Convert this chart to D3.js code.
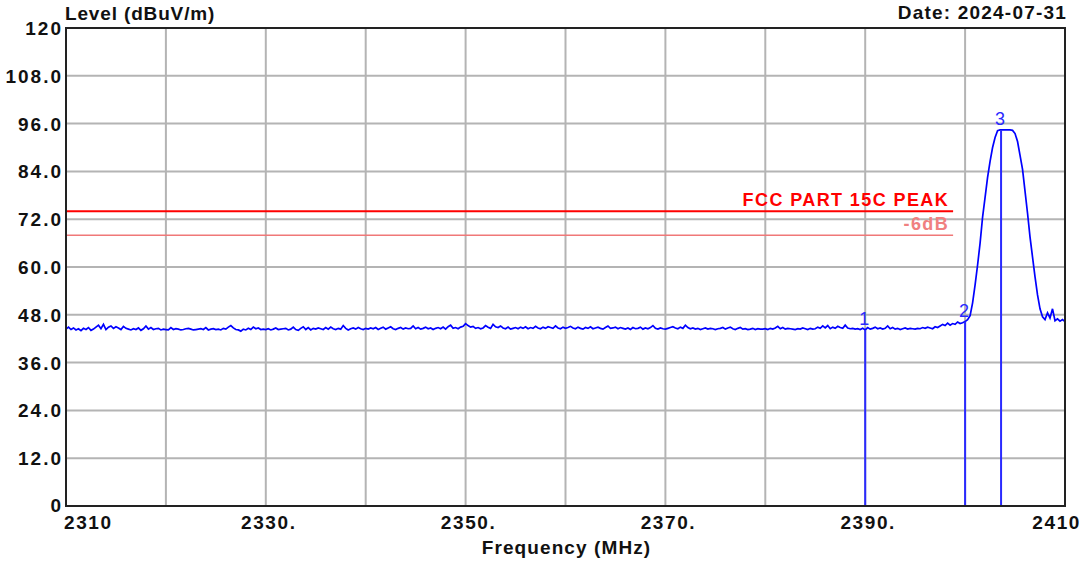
<!DOCTYPE html>
<html><head><meta charset="utf-8">
<script src="https://cdn.jsdelivr.net/npm/d3@7"></script>
<style>body{margin:0;background:#fff}svg{display:block}text{font-family:"Liberation Sans",Arial,sans-serif}</style>
</head><body><svg id="c" width="1089" height="563"></svg>
<script>
const freqStart = 2310, freqStep = 0.25;
const levels = [
44.4,44.9,44.3,44.7,44.2,44.5,44.0,44.6,44.3,44.8,44.1,44.4,44.9,45.4,44.5,45.6,44.3,44.9,45.2,44.6,
45.0,44.7,44.3,45.1,44.6,44.4,44.2,44.5,44.3,44.7,44.1,44.5,45.2,44.4,44.8,44.3,44.5,44.6,44.2,44.4,
44.3,44.2,44.8,44.3,44.5,44.4,44.2,44.3,44.5,44.6,44.4,44.2,44.3,44.4,44.5,44.3,44.8,44.2,44.4,44.5,
44.3,44.4,44.2,44.6,44.4,44.9,45.3,44.7,44.3,44.2,43.9,44.4,44.2,44.6,44.3,44.9,44.5,44.7,44.3,44.4,
44.3,44.5,44.2,44.4,44.7,44.3,44.4,44.5,44.6,44.2,44.4,44.9,44.3,44.1,44.6,45.0,44.3,44.8,44.2,44.6,
44.4,44.7,44.5,44.3,44.8,44.4,44.9,44.5,44.3,44.6,44.4,45.3,44.6,44.2,44.5,44.7,44.4,44.8,44.5,44.3,
44.6,44.4,44.7,44.5,44.8,44.3,44.6,44.9,44.4,44.7,45.0,44.5,44.3,44.6,44.8,44.4,44.7,44.5,44.6,45.2,
44.5,44.8,44.4,44.6,44.9,44.5,44.7,44.3,44.6,44.8,44.5,44.9,44.4,45.0,45.4,44.6,44.8,44.5,44.9,45.1,
45.8,45.3,44.9,45.1,44.6,44.8,44.5,44.7,45.3,44.9,44.6,45.6,45.0,44.8,45.2,44.7,44.5,44.9,44.4,44.6,
44.8,44.5,44.9,44.6,45.0,44.5,44.8,44.6,45.1,44.7,44.5,44.9,44.6,45.0,44.8,44.6,45.2,44.7,44.5,44.9,
44.6,44.8,45.1,44.7,44.5,44.9,44.6,44.4,44.8,44.6,45.0,44.5,44.7,44.9,44.6,44.4,44.8,45.2,44.6,44.7,
44.9,44.5,44.8,44.6,44.4,44.7,44.3,44.8,44.5,44.6,44.9,44.4,44.7,44.5,44.8,45.3,44.6,44.4,44.7,44.5,
44.4,44.6,44.8,45.0,44.7,44.5,44.9,44.6,45.4,44.8,44.5,44.7,44.4,44.6,44.3,44.5,44.7,44.4,44.6,44.5,
44.3,44.5,44.6,44.8,44.4,44.7,44.9,44.5,44.3,44.6,44.8,44.4,44.5,44.3,44.4,44.6,44.3,44.5,44.4,44.4,
44.5,44.3,44.6,44.4,44.7,45.1,44.5,44.8,44.4,44.6,44.5,44.4,44.3,44.5,44.4,44.7,44.5,44.3,44.6,44.4,
44.5,44.9,44.6,45.2,44.7,45.3,44.5,44.9,44.6,45.1,44.8,44.6,45.4,44.7,44.5,44.6,44.4,44.5,44.3,44.6,
44.2,44.8,44.4,44.6,44.9,44.5,44.7,44.4,44.6,45.2,44.5,44.8,44.4,44.6,44.3,44.5,44.7,44.4,44.6,44.5,
44.4,44.6,44.5,44.8,44.6,44.9,44.7,44.5,45.0,44.8,45.2,45.6,45.3,45.9,45.4,45.8,45.6,46.2,45.8,46.0,
46.3,46.8,47.8,51.0,55.5,60.5,66.0,72.5,77.5,82.5,86.5,90.0,92.5,94.2,94.4,94.4,94.4,94.4,94.4,94.3,
93.5,91.5,88.0,84.5,79.0,73.5,67.5,62.5,57.5,53.0,49.5,47.5,46.8,48.5,47.2,49.5,46.5,47.0,46.4,46.8,
46.3
];
const yTicks = [0,12,24,36,48,60,72,84,96,108,120];
const yTickLabels = ["0","12.0","24.0","36.0","48.0","60.0","72.0","84.0","96.0","108.0","120"];
const xGrid = [2310,2320,2330,2340,2350,2360,2370,2380,2390,2400,2410];
const xTicks = [2310,2330,2350,2370,2390,2410];
const xTickLabels = ["2310","2330.","2350.","2370.","2390.","2410"];
const markerIds = ["1","2","3"];
const markerFreqs = [2390, 2400, 2403.6];
const markerLevels = [44.2, 46.3, 94.4];
const limitNames = ["FCC PART 15C PEAK","-6dB"];
const limitLevels = [74, 68];
const limitEnd = 2398.8;

const svg = d3.select("#c");
const L=66,R=1065,T=28,B=506;
const x = d3.scaleLinear().domain([2310,2410]).range([L,R]);
const y = d3.scaleLinear().domain([0,120]).range([B,T]);

// grid
svg.append("g").selectAll("line").data(yTicks.slice(1,-1)).join("line")
  .attr("x1",L).attr("x2",R).attr("y1",d=>y(d)).attr("y2",d=>y(d))
  .attr("stroke","#b4b4b4").attr("stroke-width",2);
svg.append("g").selectAll("line").data(xGrid.slice(1,-1)).join("line")
  .attr("y1",T).attr("y2",B).attr("x1",d=>x(d)).attr("x2",d=>x(d))
  .attr("stroke","#b4b4b4").attr("stroke-width",2);

// limit lines
const limColors = ["#ff0000","#f07878"];
svg.append("g").selectAll("line").data(limitLevels).join("line")
  .attr("x1",x(2310)).attr("x2",x(limitEnd)).attr("y1",d=>y(d)).attr("y2",d=>y(d))
  .attr("stroke",(d,i)=>limColors[i]).attr("stroke-width",(d,i)=>i?1.5:2);
svg.append("g").selectAll("text").data(limitNames).join("text")
  .attr("x",x(limitEnd)-4).attr("y",(d,i)=>y(limitLevels[i])-5)
  .attr("text-anchor","end").attr("font-size",18).attr("letter-spacing",1.4).attr("font-weight","bold")
  .attr("fill",(d,i)=>i?"#f08080":"#ff0000").text(d=>d);

// trace
const pts = levels.map((v,i)=>[freqStart+i*freqStep, v]);
svg.append("path").datum(pts)
  .attr("d", d3.line().x(d=>x(d[0])).y(d=>y(d[1])))
  .attr("fill","none").attr("stroke","#0000ff").attr("stroke-width",1.7);

// markers
svg.append("g").selectAll("line").data(markerFreqs).join("line")
  .attr("x1",d=>x(d)).attr("x2",d=>x(d)).attr("y1",(d,i)=>y(markerLevels[i])).attr("y2",B)
  .attr("stroke","#2a2aff").attr("stroke-width",2);
svg.append("g").selectAll("text").data(markerIds).join("text")
  .attr("x",(d,i)=>x(markerFreqs[i])-1).attr("y",(d,i)=>y(markerLevels[i])-5)
  .attr("text-anchor","middle").attr("font-size",18).attr("fill","#2a2aff").text(d=>d);

// frame
svg.append("rect").attr("x",L).attr("y",T).attr("width",R-L).attr("height",B-T)
  .attr("fill","none").attr("stroke","#222").attr("stroke-width",2);

// y labels
svg.append("g").selectAll("text").data(yTicks).join("text")
  .attr("x",63).attr("y",(d,i)=>y(d)+7 + (i===0?-1:0))
  .attr("text-anchor","end").attr("font-size",19).attr("letter-spacing",2).attr("font-weight","bold").attr("fill","#111")
  .text((d,i)=>yTickLabels[i]);
// x labels
svg.append("g").selectAll("text").data(xTicks).join("text")
  .attr("x",(d,i)=> i===0 ? x(d)-2 : (i===xTicks.length-1 ? 1081 : x(d)+3))
  .attr("y",529)
  .attr("text-anchor",(d,i)=> i===0?"start":(i===xTicks.length-1?"end":"middle"))
  .attr("font-size",19).attr("letter-spacing",1.6).attr("font-weight","bold").attr("fill","#111")
  .text((d,i)=>xTickLabels[i]);

svg.append("text").attr("x",65).attr("y",20).attr("font-size",19).attr("letter-spacing",0.85).attr("font-weight","bold").attr("fill","#111").text("Level (dBuV/m)");
svg.append("text").attr("x",1067).attr("y",19).attr("text-anchor","end").attr("font-size",19).attr("letter-spacing",1.2).attr("font-weight","bold").attr("fill","#111").text("Date: 2024-07-31");
svg.append("text").attr("x",(L+R)/2+1).attr("y",554).attr("text-anchor","middle").attr("font-size",19).attr("letter-spacing",1.1).attr("font-weight","bold").attr("fill","#111").text("Frequency (MHz)");
</script></body></html>
